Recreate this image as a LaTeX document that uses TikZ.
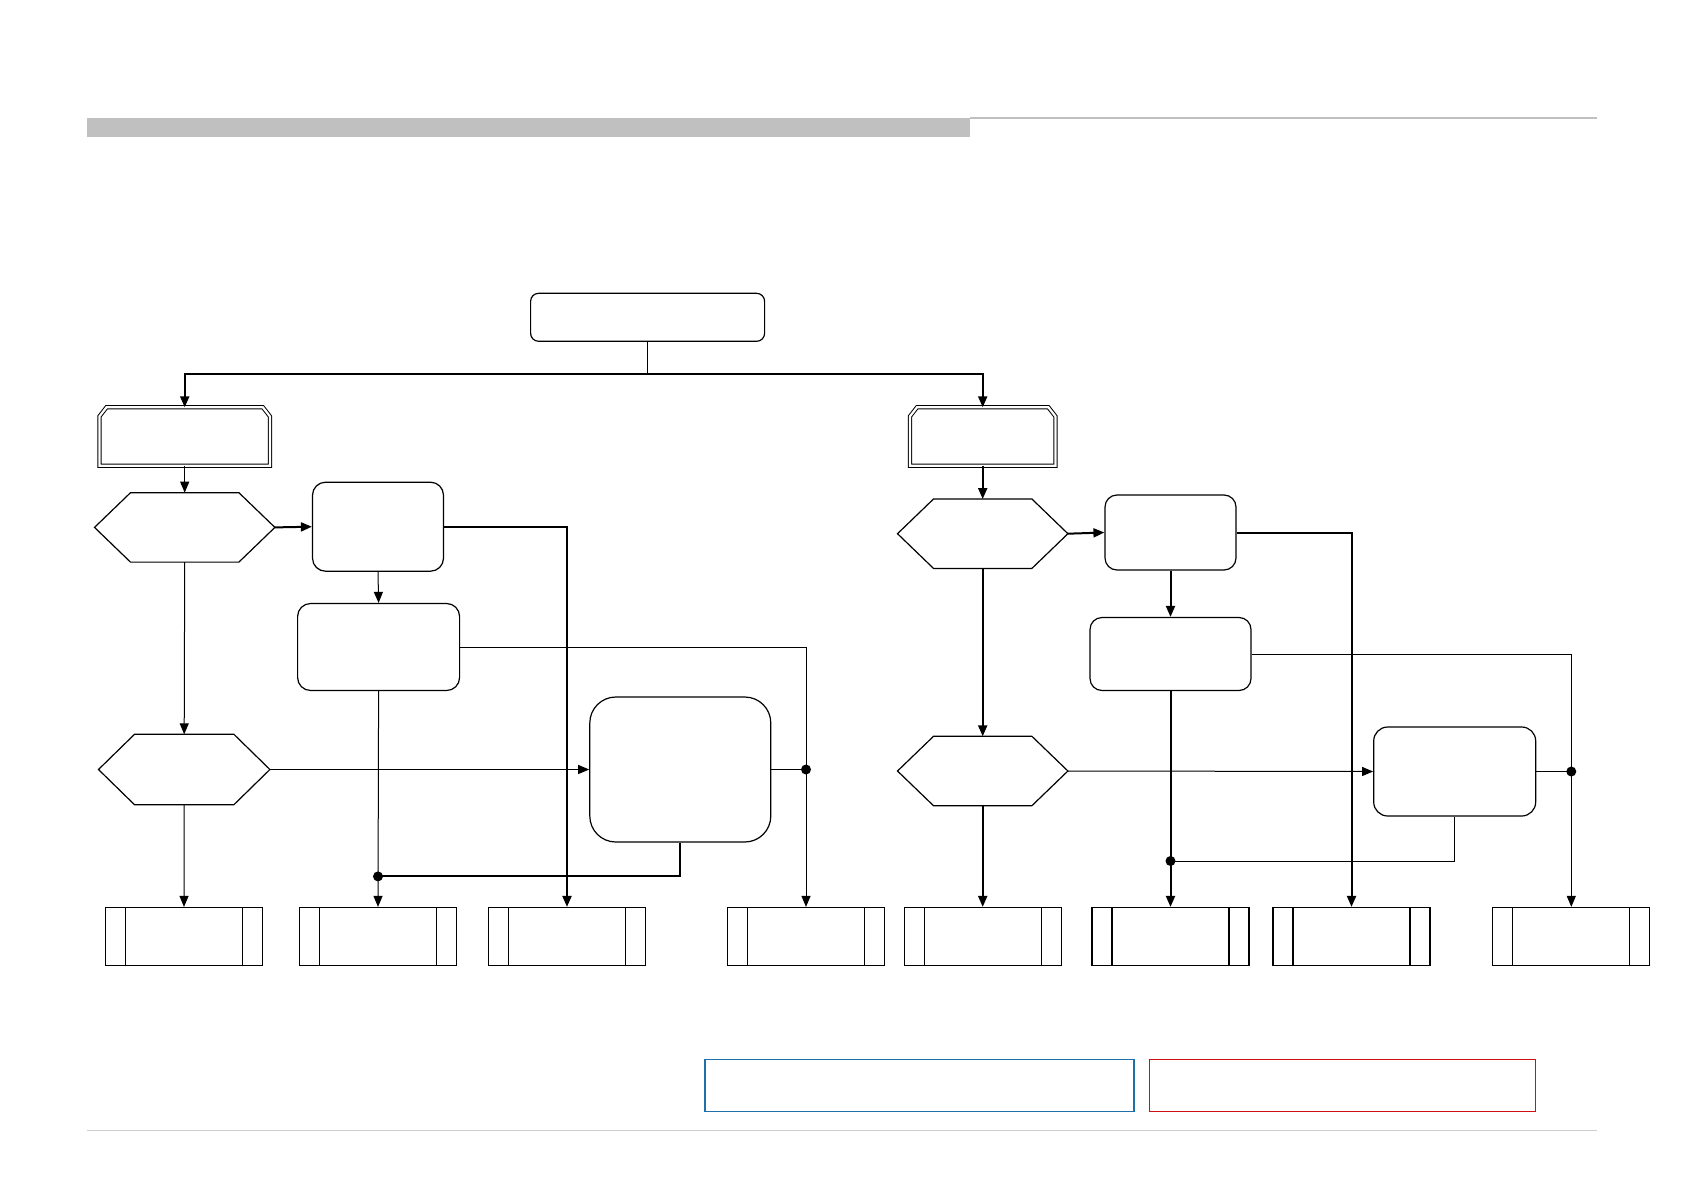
\documentclass[tikz,border=0pt]{standalone}
\usetikzlibrary{arrows.meta,calc}
\definecolor{legblue}{RGB}{31,111,170}
\definecolor{legred}{RGB}{208,16,16}
\definecolor{bargray}{RGB}{192,192,192}
\tikzset{
  thk/.style={line width=2pt},
  thn/.style={line width=1pt},
  arr/.style={-{Triangle[length=11pt,width=9pt]}},
  rbox/.style={draw,line width=1.2pt,rounded corners=#1,inner sep=0pt},
  hexa/.style={inner sep=0pt,draw=none},
  ppbox/.style={draw,line width=1.2pt,inner sep=0pt,minimum width=157pt,minimum height=58pt,
    path picture={\draw[line width=1.2pt] ([xshift=20pt]path picture bounding box.north west) -- ([xshift=20pt]path picture bounding box.south west);
      \draw[line width=1.2pt] ([xshift=-20pt]path picture bounding box.north east) -- ([xshift=-20pt]path picture bounding box.south east);}},
  dot/.style={circle,fill,inner sep=0pt,minimum size=10pt}
}
\newcommand{\hexdraw}[1]{\draw[line width=1.2pt] (#1.west) -- ([xshift=36pt]#1.north west) -- ([xshift=-36pt]#1.north east) -- (#1.east) -- ([xshift=-36pt]#1.south east) -- ([xshift=36pt]#1.south west) -- cycle;}
\newcommand{\chamdraw}[1]{\draw[double,line width=1pt,double distance=2.2pt] (#1.south west) -- ([yshift=-9pt]#1.north west) -- ([xshift=7pt]#1.north west) -- ([xshift=-7pt]#1.north east) -- ([yshift=-9pt]#1.north east) -- (#1.south east) -- cycle;}
\begin{document}
\begin{tikzpicture}[x=1pt,y=-1pt]
\useasboundingbox (0,0) rectangle (1684,1191);
% header and footer
\fill[bargray] (87,118) rectangle (970,137);
\draw[bargray,line width=2pt] (970,118) -- (1597,118);
\draw[bargray!80,line width=1pt] (87,1130) -- (1597,1130);
% nodes
\node[rbox=8pt,minimum width=234pt,minimum height=48pt] (top) at (647.6,317.3) {};
\node[hexa,minimum width=170pt,minimum height=58pt] (dl) at (184.7,436.5) {};
\node[hexa,minimum width=145pt,minimum height=58pt] (dr) at (982.7,436.5) {};
\chamdraw{dl}\chamdraw{dr}
\node[hexa,minimum width=180pt,minimum height=69pt] (hl1) at (184.7,527.4) {};
\node[rbox=13pt,minimum width=131pt,minimum height=89pt] (bl1) at (378,526.7) {};
\node[rbox=13pt,minimum width=162pt,minimum height=87pt] (bl2) at (378.6,647) {};
\node[hexa,minimum width=171pt,minimum height=70pt] (hl2) at (184.2,769.5) {};
\node[rbox=26pt,minimum width=181pt,minimum height=145pt] (bl3) at (680.3,769.5) {};
\node[hexa,minimum width=170pt,minimum height=69pt] (hr1) at (982.7,533.7) {};
\node[rbox=12pt,minimum width=131pt,minimum height=75pt] (br1) at (1170.5,532.5) {};
\node[rbox=12pt,minimum width=161pt,minimum height=73pt] (br2) at (1170.5,654) {};
\node[hexa,minimum width=170pt,minimum height=69pt] (hr2) at (982.7,771) {};
\node[rbox=14pt,minimum width=162pt,minimum height=89pt] (br3) at (1454.7,771.5) {};
\hexdraw{hl1}\hexdraw{hl2}\hexdraw{hr1}\hexdraw{hr2}
\node[ppbox] (p1) at (184,936.5) {};
\node[ppbox] (p2) at (378,936.5) {};
\node[ppbox] (p3) at (567,936.5) {};
\node[ppbox] (p4) at (806,936.5) {};
\node[ppbox] (p5) at (982.7,936.5) {};
\node[ppbox] (p6) at (1170.5,936.5) {};
\node[ppbox] (p7) at (1351.5,936.5) {};
\node[ppbox] (p8) at (1571.3,936.5) {};
\node[draw=legblue,line width=1.6pt,minimum width=429pt,minimum height=52pt,inner sep=0pt] (legA) at (919.3,1085.3) {};
\node[draw=legred,line width=1.6pt,minimum width=386pt,minimum height=52pt,inner sep=0pt] (legB) at (1342.4,1085.3) {};
% junction coordinates
\coordinate (bus) at (647.6,373.7);
\coordinate (jl) at (378,876.4);
\coordinate (jl4) at (806,769.5);
\coordinate (jr) at (1170.5,861);
\coordinate (jr8) at (1571.3,771.5);
% connectors
\draw[thn] (top.south) -- (bus);
\draw[thk,arr] (bus) -| (dl.north);
\draw[thk,arr] (bus) -| (dr.north);
\draw[thn,arr] (dl.south) -- (hl1.north);
\draw[thk,arr] (dr.south) -- (hr1.north);
\draw[thk,arr] (hl1.east) -- (bl1.west);
\draw[thk,arr] (hr1.east) -- (br1.west);
\draw[thk,arr] (bl1.east) -| (p3.north);
\draw[thn,arr] (bl1.south) -- (bl2.north);
\draw[thn,arr] (bl2.east) -| (p4.north);
\draw[thn,arr] (bl2.south) -- (p2.north);
\draw[thn,arr] (hl1.south) -- (hl2.north);
\draw[thn,arr] (hl2.east) -- (bl3.west);
\draw[thn] (bl3.east) -- (jl4);
\draw[thk] (bl3.south) |- (jl);
\draw[thn,arr] (hl2.south) -- (p1.north);
\draw[thk,arr] (hr1.south) -- (hr2.north);
\draw[thk,arr] (br1.east) -| (p7.north);
\draw[thk,arr] (br1.south) -- (br2.north);
\draw[thn,arr] (br2.east) -| (p8.north);
\draw[thk,arr] (br2.south) -- (p6.north);
\draw[thn,arr] (hr2.east) -- (br3.west);
\draw[thn] (br3.east) -- (jr8);
\draw[thn] (br3.south) |- (jr);
\draw[thk,arr] (hr2.south) -- (p5.north);
\node[dot] at (jl) {};
\node[dot] at (jl4) {};
\node[dot] at (jr) {};
\node[dot] at (jr8) {};
\end{tikzpicture}
\end{document}
